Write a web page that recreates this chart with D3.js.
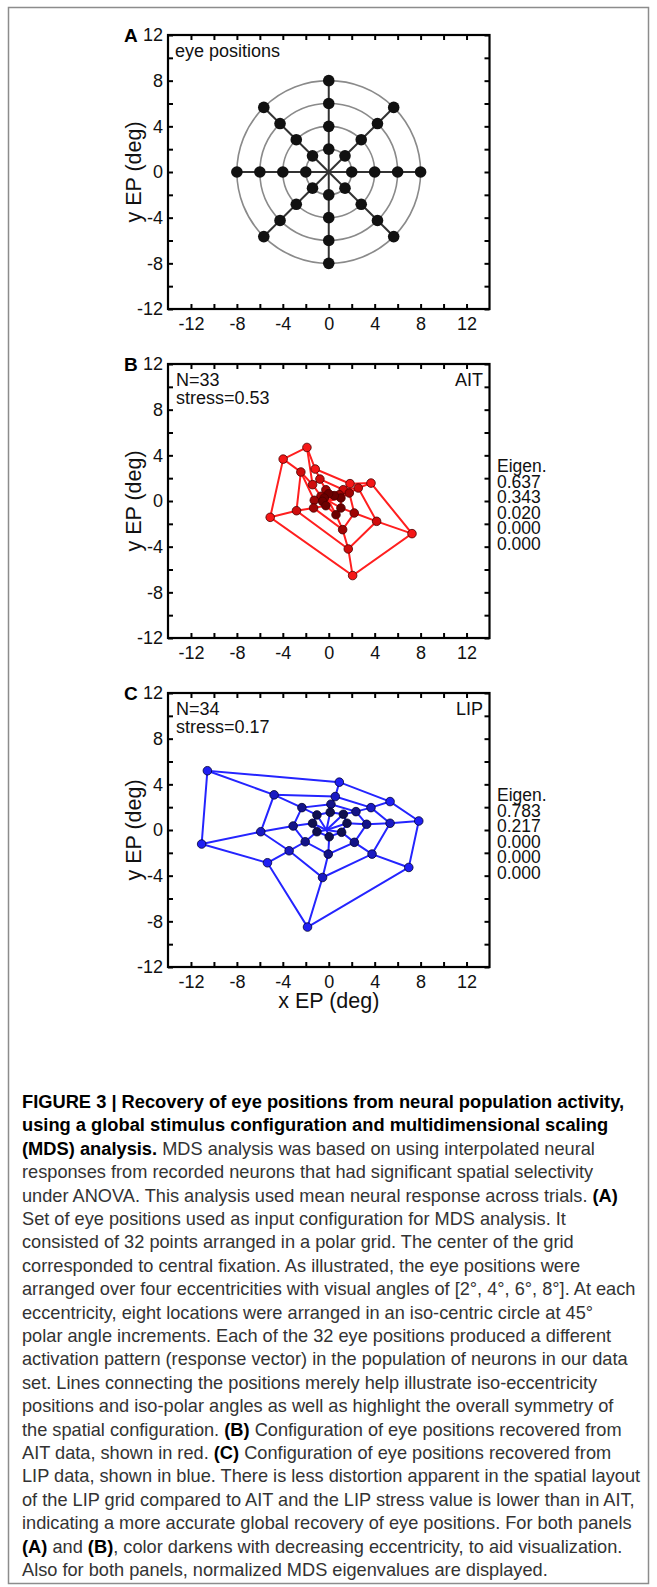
<!DOCTYPE html>
<html>
<head>
<meta charset="utf-8">
<script src="https://cdn.jsdelivr.net/npm/d3@7"></script>
<style>
  body { margin: 0; background: #fff; }
  svg { display: block; font-family: "Liberation Sans", Arial, Helvetica, sans-serif; }
</style>
</head>
<body>
<div id="fig"></div>
<script>
// declare constants
const FRAME_WIDTH = 657;
const FRAME_HEIGHT = 1587;
const PANEL = {left: 168, width: 321.5, height: 274};
const PANEL_TOPS = [35, 364, 693];

// axis ticks
const AXIS_TICKS = [-12, -10, -8, -6, -4, -2, 0, 2, 4, 6, 8, 10, 12];
const TICK_LABELS = [-12, -8, -4, 0, 4, 8, 12];

// panel A: input configuration
const ECCENTRICITIES = [2, 4, 6, 8];
const POLAR_ANGLES = [0, 45, 90, 135, 180, 225, 270, 315];

// panel B: AIT recovered positions (one array per eccentricity, 8 polar angles each)
const AIT_CENTER = [0, 0];
const AIT_ECC2 = [[1.06, 0.26], [0.48, 0.47], [-0.01, 0.64], [-0.39, 0.26], [-0.54, -0.03], [-0.25, -0.41], [0.63, -1.20], [1.06, -0.61]];
const AIT_ECC4 = [[1.79, 0.70], [0.92, 0.55], [-0.25, 0.99], [-0.68, 0.41], [-1.26, 0.06], [-1.32, -0.61], [1.21, -2.51], [2.22, -1.05]];
const AIT_ECC6 = [[2.57, 1.14], [1.26, 0.99], [-0.77, 1.92], [-1.41, 1.43], [-2.43, 2.54], [-2.81, -0.85], [1.70, -4.20], [4.17, -1.78]];
const AIT_ECC8 = [[3.68, 1.57], [1.85, 1.52], [-1.18, 2.80], [-1.90, 4.69], [-3.97, 3.67], [-5.10, -1.43], [2.08, -6.53], [7.25, -2.86]];
const AIT_EIGEN = ["0.637", "0.343", "0.020", "0.000", "0.000"];

// panel C: LIP recovered positions
const LIP_CENTER = [-0.2, 0];
const LIP_ECC2 = [[1.59, 0.59], [1.27, 1.38], [0.13, 1.55], [-1.03, 1.32], [-1.41, 0.59], [-1.03, -0.15], [0.04, -0.59], [1.12, -0.20]];
const LIP_ECC4 = [[3.30, 0.50], [2.37, 1.61], [0.19, 2.26], [-2.34, 1.96], [-3.10, 0.35], [-2.05, -1.03], [-0.04, -2.11], [2.23, -1.08]];
const LIP_ECC6 = [[5.34, 0.59], [3.68, 1.96], [0.57, 2.93], [-4.76, 3.08], [-5.92, -0.15], [-3.45, -1.82], [-0.54, -4.16], [3.77, -2.11]];
const LIP_ECC8 = [[7.84, 0.79], [5.34, 2.49], [0.92, 4.19], [-10.57, 5.19], [-11.07, -1.23], [-5.34, -2.87], [-1.85, -8.50], [6.97, -3.28]];
const LIP_EIGEN = ["0.783", "0.217", "0.000", "0.000", "0.000"];

// caption lines: [text, bold?]
const CAPTION = [
  [["FIGURE 3 | Recovery of eye positions from neural population activity,", true]],
  [["using a global stimulus configuration and multidimensional scaling", true]],
  [["(MDS) analysis.", true], [" MDS analysis was based on using interpolated neural", false]],
  [["responses from recorded neurons that had significant spatial selectivity", false]],
  [["under ANOVA. This analysis used mean neural response across trials. ", false], ["(A)", true]],
  [["Set of eye positions used as input configuration for MDS analysis. It", false]],
  [["consisted of 32 points arranged in a polar grid. The center of the grid", false]],
  [["corresponded to central fixation. As illustrated, the eye positions were", false]],
  [["arranged over four eccentricities with visual angles of [2°, 4°, 6°, 8°]. At each", false]],
  [["eccentricity, eight locations were arranged in an iso-centric circle at 45°", false]],
  [["polar angle increments. Each of the 32 eye positions produced a different", false]],
  [["activation pattern (response vector) in the population of neurons in our data", false]],
  [["set. Lines connecting the positions merely help illustrate iso-eccentricity", false]],
  [["positions and iso-polar angles as well as highlight the overall symmetry of", false]],
  [["the spatial configuration. ", false], ["(B)", true], [" Configuration of eye positions recovered from", false]],
  [["AIT data, shown in red. ", false], ["(C)", true], [" Configuration of eye positions recovered from", false]],
  [["LIP data, shown in blue. There is less distortion apparent in the spatial layout", false]],
  [["of the LIP grid compared to AIT and the LIP stress value is lower than in AIT,", false]],
  [["indicating a more accurate global recovery of eye positions. For both panels", false]],
  [["(A)", true], [" and ", false], ["(B)", true], [", color darkens with decreasing eccentricity, to aid visualization.", false]],
  [["Also for both panels, normalized MDS eigenvalues are displayed.", false]]
];

const svg = d3.select("#fig").append("svg")
    .attr("width", FRAME_WIDTH)
    .attr("height", FRAME_HEIGHT);

// outer border of the figure
svg.append("rect")
    .attr("x", 8.5).attr("y", 7.5)
    .attr("width", 640).attr("height", 1576)
    .attr("fill", "none")
    .attr("stroke", "#8c8c8c")
    .attr("stroke-width", 1.5);

function makePanel(top, letter) {
  const x = d3.scaleLinear().domain([-14, 14]).range([PANEL.left, PANEL.left + PANEL.width]);
  const y = d3.scaleLinear().domain([-12, 12]).range([top + PANEL.height, top]);
  const g = svg.append("g");
  const fmt = d => TICK_LABELS.includes(d) ? String(d) : "";

  // bottom axis (with labels)
  g.append("g").attr("class", "axis")
      .attr("transform", "translate(0," + (top + PANEL.height) + ")")
      .call(d3.axisBottom(x).tickValues(AXIS_TICKS).tickSizeInner(-5).tickSizeOuter(0).tickPadding(8).tickFormat(fmt));
  // left axis (with labels)
  g.append("g").attr("class", "axis")
      .attr("transform", "translate(" + PANEL.left + ",0)")
      .call(d3.axisLeft(y).tickValues(AXIS_TICKS).tickSizeInner(-5).tickSizeOuter(0).tickPadding(5).tickFormat(fmt));
  // top and right axes, ticks only
  g.append("g").attr("class", "axis")
      .attr("transform", "translate(0," + top + ")")
      .call(d3.axisTop(x).tickValues(AXIS_TICKS).tickSizeInner(-5).tickSizeOuter(0).tickFormat(""));
  g.append("g").attr("class", "axis")
      .attr("transform", "translate(" + (PANEL.left + PANEL.width) + ",0)")
      .call(d3.axisRight(y).tickValues(AXIS_TICKS).tickSizeInner(-5).tickSizeOuter(0).tickFormat(""));

  g.selectAll(".axis .domain").remove();
  g.selectAll(".axis line").attr("stroke", "#000").attr("stroke-width", 2);
  g.selectAll(".axis text")
      .attr("font-size", 18)
      .attr("font-family", "Liberation Sans, Arial, sans-serif")
      .attr("fill", "#111");

  g.append("rect")
      .attr("x", PANEL.left).attr("y", top)
      .attr("width", PANEL.width).attr("height", PANEL.height)
      .attr("fill", "none").attr("stroke", "#000").attr("stroke-width", 2.2);

  // panel letter
  g.append("text")
      .attr("x", 124).attr("y", top + 7)
      .attr("font-size", 19).attr("font-weight", "bold")
      .text(letter);

  // y label
  g.append("text")
      .attr("transform", "translate(141," + (top + PANEL.height / 2) + ") rotate(-90)")
      .attr("text-anchor", "middle")
      .attr("font-size", 21.5)
      .attr("fill", "#111")
      .text("y EP (deg)");

  return {g, x, y};
}

// ---------- panel A ----------
{
  const {g, x, y} = makePanel(PANEL_TOPS[0], "A");
  const rad = a => a * Math.PI / 180;

  g.selectAll(".ring")
      .data(ECCENTRICITIES)
      .enter()
      .append("ellipse")
      .attr("cx", x(0)).attr("cy", y(0))
      .attr("rx", d => x(d) - x(0))
      .attr("ry", d => y(0) - y(d))
      .attr("fill", "none")
      .attr("stroke", "#8a8a8a")
      .attr("stroke-width", 1.6);

  g.selectAll(".spoke")
      .data(POLAR_ANGLES)
      .enter()
      .append("line")
      .attr("x1", x(0)).attr("y1", y(0))
      .attr("x2", a => x(8 * Math.cos(rad(a))))
      .attr("y2", a => y(8 * Math.sin(rad(a))))
      .attr("stroke", "#333")
      .attr("stroke-width", 2);

  const pts = [];
  ECCENTRICITIES.forEach(e => POLAR_ANGLES.forEach(a => pts.push([e * Math.cos(rad(a)), e * Math.sin(rad(a))])));
  g.selectAll(".pt")
      .data(pts)
      .enter()
      .append("circle")
      .attr("cx", d => x(d[0]))
      .attr("cy", d => y(d[1]))
      .attr("r", 5.8)
      .attr("fill", "#111");

  g.append("text")
      .attr("x", 175).attr("y", PANEL_TOPS[0] + 22)
      .attr("font-size", 18).attr("fill", "#111")
      .text("eye positions");
}

// ---------- panels B and C ----------
function drawRecovered(top, letter, center, rings, lineColor, fills, strokeColor, nText, stressText, area, eigen) {
  const {g, x, y} = makePanel(top, letter);
  const line = d3.line().x(d => x(d[0])).y(d => y(d[1]));
  const closed = d3.line().x(d => x(d[0])).y(d => y(d[1])).curve(d3.curveLinearClosed);

  // spokes: center -> ecc2 -> ecc4 -> ecc6 -> ecc8
  const spokes = d3.range(8).map(i => [center].concat(rings.map(r => r[i])));
  g.selectAll(".spoke")
      .data(spokes)
      .enter()
      .append("path")
      .attr("d", line)
      .attr("fill", "none")
      .attr("stroke", lineColor)
      .attr("stroke-width", 2);

  g.selectAll(".ring")
      .data(rings)
      .enter()
      .append("path")
      .attr("d", closed)
      .attr("fill", "none")
      .attr("stroke", lineColor)
      .attr("stroke-width", 2);

  // outer points first so darker inner points sit on top
  for (let k = rings.length - 1; k >= 0; k--) {
    g.selectAll(".pt" + k)
        .data(rings[k])
        .enter()
        .append("circle")
        .attr("cx", d => x(d[0]))
        .attr("cy", d => y(d[1]))
        .attr("r", 4.3)
        .attr("fill", fills[k])
        .attr("stroke", strokeColor)
        .attr("stroke-width", 0.8);
  }

  g.append("text").attr("x", 176).attr("y", top + 22)
      .attr("font-size", 18).attr("fill", "#111").text(nText);
  g.append("text").attr("x", 176).attr("y", top + 40)
      .attr("font-size", 18).attr("fill", "#111").text(stressText);
  g.append("text").attr("x", 483).attr("y", top + 22)
      .attr("text-anchor", "end")
      .attr("font-size", 18).attr("fill", "#111").text(area);

  // eigenvalues, tightly stacked as in the original
  g.append("text").attr("x", 497).attr("y", top + 108)
      .attr("font-size", 17.5).attr("fill", "#111").text("Eigen.");
  g.selectAll(".eig")
      .data(eigen)
      .enter()
      .append("text")
      .attr("x", 497)
      .attr("y", (d, i) => top + 123.5 + i * 15.6)
      .attr("font-size", 17.5).attr("fill", "#111")
      .text(d => d);
}

drawRecovered(PANEL_TOPS[1], "B", AIT_CENTER, [AIT_ECC2, AIT_ECC4, AIT_ECC6, AIT_ECC8],
    "#ff1f1f", ["#6b0000", "#9e0505", "#cf0c0c", "#f51717"], "#4a0000",
    "N=33", "stress=0.53", "AIT", AIT_EIGEN);

drawRecovered(PANEL_TOPS[2], "C", LIP_CENTER, [LIP_ECC2, LIP_ECC4, LIP_ECC6, LIP_ECC8],
    "#2424ff", ["#10104f", "#141488", "#1a1ac2", "#1f1ff2"], "#000033",
    "N=34", "stress=0.17", "LIP", LIP_EIGEN);

// x label under panel C
svg.append("text")
    .attr("x", PANEL.left + PANEL.width / 2)
    .attr("y", 1008)
    .attr("text-anchor", "middle")
    .attr("font-size", 21.5).attr("fill", "#111")
    .text("x EP (deg)");

// ---------- caption ----------
const cap = svg.append("g").attr("fill", "#222");
CAPTION.forEach((segs, i) => {
  const t = cap.append("text").attr("x", 22).attr("y", 1108 + i * 23.4);
  segs.forEach(s => {
    t.append("tspan")
        .attr("font-weight", s[1] ? "bold" : "normal")
        .attr("font-size", s[1] ? 18.3 : 18.2)
        .attr("fill", s[1] ? "#000" : "#333")
        .text(s[0]);
  });
});
</script>
</body>
</html>
